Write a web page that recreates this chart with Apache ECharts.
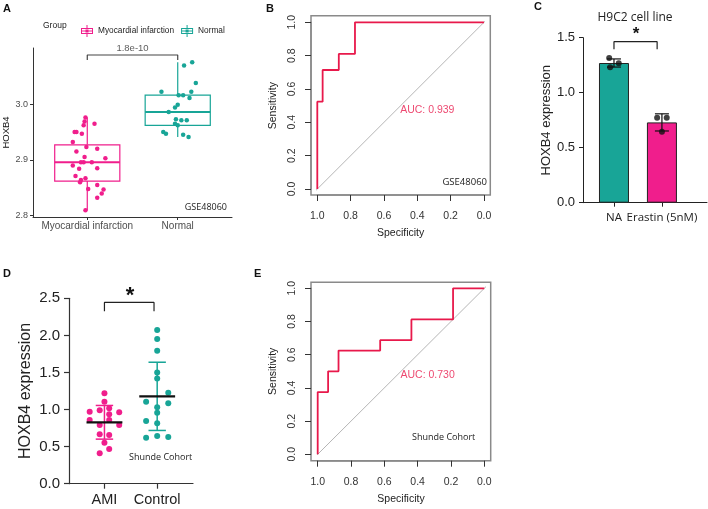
<!DOCTYPE html>
<html>
  <head>
    <meta charset="utf-8" />
    <title>HOXB4 expression panels</title>
    <script src="https://cdn.jsdelivr.net/npm/echarts/dist/echarts.min.js"></script>
    <style>
      body {
        margin: 0;
        padding: 0;
        background: #fff;
      }
      #main {
        width: 708px;
        height: 509px;
      }
    </style>
  </head>
  <body>
    <div id="main"></div>
    <script type="text/javascript">
      // ---- panel A : GSE48060 boxplot + jitter ----
      var aGroups = ["Myocardial infarction", "Normal"];
      var aMiValues = [
        2.976, 2.969, 2.965, 2.962, 2.95, 2.95, 2.947, 2.932, 2.923, 2.92,
        2.915, 2.905, 2.903, 2.896, 2.896, 2.896, 2.89, 2.885, 2.884, 2.871,
        2.867, 2.864, 2.86, 2.855, 2.848, 2.847, 2.84, 2.832, 2.81,
      ];
      var aMiJitter = [
        -0.02, -0.03, 0.08, -0.04, -0.14, -0.12, -0.06, -0.16, -0.01, 0.11,
        -0.12, -0.03, 0.2, -0.07, -0.04, 0.05, -0.16, 0.11, -0.09, -0.13,
        -0.02, -0.07, -0.08, 0.11, 0.01, 0.18, 0.16, 0.11, -0.02,
      ];
      var aNormalValues = [
        3.075, 3.069, 3.038, 3.022, 3.022, 3.016, 3.016, 3.011, 2.999, 2.994,
        2.986, 2.973, 2.971, 2.971, 2.965, 2.962, 2.95, 2.947, 2.945, 2.941,
      ];
      var aNormalJitter = [
        0.16, 0.07, 0.2, -0.18, 0.15, 0.01, 0.06, 0.13, 0, -0.03, -0.1, -0.02,
        0.04, 0.1, -0.03, 0, -0.16, -0.13, 0.06, 0.12,
      ];
      // lower whisker, Q1, median, Q3, upper whisker
      var aBoxMi = [2.81, 2.862, 2.896, 2.927, 2.976];
      var aBoxNormal = [2.941, 2.962, 2.986, 3.016, 3.075];
      var aTicks = [2.8, 2.9, 3.0];
      var aPValue = "1.8e-10";

      // ---- panel B : ROC GSE48060 ----
      var bSpec = [1, 1, 0.968, 0.968, 0.871, 0.871, 0.774, 0.774, 0];
      var bSens = [0, 0.524, 0.524, 0.714, 0.714, 0.81, 0.81, 1, 1];
      var bAuc = "AUC: 0.939";

      // ---- panel C : H9C2 cell line ----
      var cGroups = ["NA", "Erastin (5nM)"];
      var cMeans = [1.27, 0.73];
      var cErr = [0.037, 0.078];
      var cPoints = [
        [1.315, 1.267, 1.231],
        [0.773, 0.773, 0.645],
      ];
      var cJitter = [
        [-0.1, 0.1, -0.08],
        [-0.1, 0.1, 0],
      ];

      // ---- panel D : Shunde cohort ----
      var dGroups = ["AMI", "Control"];
      var dAmi = [
        1.218, 1.105, 0.97, 0.989, 1.016, 0.962, 0.935, 0.858, 0.858, 0.791,
        0.791, 0.666, 0.656, 0.553, 0.468, 0.41,
      ];
      var dAmiJitter = [
        0, 0, -0.28, -0.09, 0.09, 0.28, 0.09, -0.28, 0.09, -0.09, 0.28, -0.09,
        0.09, 0, 0.09, -0.09,
      ];
      var dControl = [
        2.071, 1.95, 1.792, 1.501, 1.42, 1.105, 1.226, 1.084, 1.03, 0.957,
        0.845, 0.814, 0.62, 0.643, 0.629,
      ];
      var dControlJitter = [
        0, 0, 0, 0, 0, -0.21, 0.21, 0.21, 0, 0, -0.21, 0, -0.21, 0, 0.21,
      ];
      var dMeans = [0.828, 1.178];
      var dSd = [0.227, 0.46];

      // ---- panel E : ROC Shunde cohort ----
      var eSpec = [
        1, 1, 0.9375, 0.9375, 0.875, 0.875, 0.625, 0.625, 0.4375, 0.4375,
        0.1875, 0.1875, 0,
      ];
      var eSens = [
        0, 0.375, 0.375, 0.5, 0.5, 0.625, 0.625, 0.6875, 0.6875, 0.8125,
        0.8125, 1, 1,
      ];
      var eAuc = "AUC: 0.730";

      var PINK = "#F01E8C";
      var TEAL = "#18A597";
      var RED = "#E8194B";
      var BOX_GREY = "#8a8a8a";
      var aColors = [PINK, TEAL];

      var myChart = echarts.init(document.getElementById("main"));

      function zip(xs, ys) {
        return xs.map(function (x, i) {
          return [x, ys[i]];
        });
      }
      function jittered(center, values, jitter) {
        return values.map(function (v, i) {
          return [center + jitter[i], v];
        });
      }

      // ROC axes: data range 0..1, pushed out onto the R plot box with offset
      function rocXAxis(grid, off) {
        return {
          gridIndex: grid,
          type: "value",
          inverse: true,
          min: 0,
          max: 1,
          interval: 0.2,
          offset: off,
          name: "Specificity",
          nameLocation: "middle",
          nameGap: 33,
          nameTextStyle: { fontSize: 10.5, color: "#222" },
          axisLine: { show: true, onZero: false, lineStyle: { color: BOX_GREY, width: 1.5 } },
          axisTick: { show: true, length: 6, lineStyle: { color: "#333", width: 1 } },
          axisLabel: {
            fontSize: 10.5,
            color: "#333",
            margin: 16,
            formatter: function (v) {
              return v.toFixed(1);
            },
          },
          splitLine: { show: false },
        };
      }
      function rocYAxis(grid, off) {
        return {
          gridIndex: grid,
          type: "value",
          min: 0,
          max: 1,
          interval: 0.2,
          offset: off,
          name: "Sensitivity",
          nameLocation: "middle",
          nameGap: 32,
          nameTextStyle: { fontSize: 10.5, color: "#222" },
          axisLine: { show: true, onZero: false, lineStyle: { color: BOX_GREY, width: 1.5 } },
          axisTick: { show: true, length: 6, lineStyle: { color: "#333", width: 1 } },
          axisLabel: {
            rotate: 90,
            fontSize: 10.5,
            color: "#333",
            margin: 13,
            formatter: function (v) {
              return v.toFixed(1);
            },
          },
          splitLine: { show: false },
        };
      }
      function rocSeries(idx, spec, sens, auc) {
        return [
          {
            type: "line",
            xAxisIndex: idx,
            yAxisIndex: idx,
            data: [
              [1.04, -0.04],
              [-0.04, 1.04],
            ],
            clip: false,
            symbol: "none",
            lineStyle: { color: "#b5b5b5", width: 1 },
            silent: true,
          },
          {
            type: "line",
            xAxisIndex: idx,
            yAxisIndex: idx,
            data: zip(spec, sens),
            clip: false,
            symbol: "none",
            lineStyle: { color: RED, width: 1.8 },
          },
          {
            type: "scatter",
            xAxisIndex: idx,
            yAxisIndex: idx,
            data: [[0.5, 0.505]],
            symbolSize: 1,
            itemStyle: { color: "transparent" },
            label: {
              show: true,
              position: [0, 0],
              align: "left",
              verticalAlign: "top",
              formatter: auc,
              fontSize: 10.5,
              color: RED,
            },
          },
        ];
      }

      function bracket(idx, x1, x2, yLow, yHigh, color) {
        return {
          type: "line",
          xAxisIndex: idx,
          yAxisIndex: idx,
          data: [
            [x1, yLow],
            [x1, yHigh],
            [x2, yHigh],
            [x2, yLow],
          ],
          symbol: "none",
          lineStyle: { color: color, width: 1.2 },
          silent: true,
        };
      }

      var boxIcon =
        "path://M0,3H12V9H0Z M1,4V8H11V4Z M1,5.5H11V6.5H1Z M5.5,0H6.5V3H5.5Z M5.5,9H6.5V12H5.5Z M4.5,4.5H7.5V7.5H4.5Z";

      var option = {
        animation: false,
        textStyle: { fontFamily: "Liberation Sans" },
        legend: {
          left: 76,
          top: 20,
          itemWidth: 12,
          itemHeight: 12,
          itemGap: 7,
          textStyle: { fontSize: 8.3, color: "#222" },
          data: [
            { name: aGroups[0], icon: boxIcon },
            { name: aGroups[1], icon: boxIcon },
          ],
        },
        grid: [
          { left: 33, top: 48, width: 199, height: 169 },
          { left: 317.3, top: 22.3, width: 166.7, height: 166.7 },
          { left: 583, top: 37.7, width: 124, height: 165 },
          { left: 69, top: 298.3, width: 124, height: 185.4 },
          { left: 317.7, top: 288.3, width: 166.6, height: 166 },
        ],
        xAxis: [
          {
            gridIndex: 0,
            type: "value",
            min: 0.4,
            max: 2.6,
            axisLine: { onZero: false, lineStyle: { color: "#333", width: 1 } },
            axisTick: {
              show: true,
              length: 3,
              customValues: [1, 2],
              lineStyle: { color: "#333" },
            },
            axisLabel: {
              customValues: [1, 2],
              fontSize: 10,
              color: "#4d4d4d",
              margin: 4,
              formatter: function (v) {
                return aGroups[Math.round(v) - 1];
              },
            },
            splitLine: { show: false },
          },
          rocXAxis(1, 6),
          {
            gridIndex: 2,
            type: "value",
            min: 0.354,
            max: 2.94,
            axisLine: { onZero: false, lineStyle: { color: "#222", width: 1 } },
            axisTick: {
              show: true,
              length: 4,
              customValues: [1, 2],
              lineStyle: { color: "#222" },
            },
            axisLabel: {
              customValues: [1, 2],
              fontFamily: "Open Sans",
              fontSize: 11.5,
              color: "#222",
              margin: 9,
              formatter: function (v) {
                return cGroups[Math.round(v) - 1];
              },
            },
            splitLine: { show: false },
          },
          {
            gridIndex: 3,
            type: "value",
            min: 0.328,
            max: 2.679,
            axisLine: { onZero: false, lineStyle: { color: "#333", width: 1.2 } },
            axisTick: {
              show: true,
              length: 5,
              customValues: [1, 2],
              lineStyle: { color: "#333", width: 1.2 },
            },
            axisLabel: {
              customValues: [1, 2],
              fontSize: 14.5,
              color: "#222",
              margin: 9,
              formatter: function (v) {
                return dGroups[Math.round(v) - 1];
              },
            },
            splitLine: { show: false },
          },
          rocXAxis(4, 6.4),
        ],
        yAxis: [
          {
            gridIndex: 0,
            type: "value",
            min: 2.7977,
            max: 3.1005,
            name: "HOXB4",
            nameLocation: "middle",
            nameGap: 21,
            nameTextStyle: { fontSize: 9.5, color: "#111" },
            axisLine: { show: true, onZero: false, lineStyle: { color: "#333", width: 1 } },
            axisTick: {
              show: true,
              length: 3,
              customValues: aTicks,
              lineStyle: { color: "#333" },
            },
            axisLabel: {
              customValues: aTicks,
              fontSize: 9,
              color: "#4d4d4d",
              margin: 5,
              formatter: function (v) {
                return v.toFixed(1);
              },
            },
            splitLine: { show: false },
          },
          rocYAxis(1, 6.3),
          {
            gridIndex: 2,
            type: "value",
            min: 0,
            max: 1.5,
            interval: 0.5,
            name: "HOXB4 expression",
            nameLocation: "middle",
            nameGap: 27,
            nameTextStyle: { fontSize: 13, color: "#222" },
            axisLine: { show: true, onZero: false, lineStyle: { color: "#222", width: 1 } },
            axisTick: { show: true, length: 4, lineStyle: { color: "#222" } },
            axisLabel: {
              fontSize: 13,
              color: "#222",
              margin: 8,
              formatter: function (v) {
                return v.toFixed(1);
              },
            },
            splitLine: { show: false },
          },
          {
            gridIndex: 3,
            type: "value",
            min: 0,
            max: 2.5,
            interval: 0.5,
            name: "HOXB4 expression",
            nameLocation: "middle",
            nameGap: 35,
            nameTextStyle: { fontSize: 16, color: "#222" },
            axisLine: { show: true, onZero: false, lineStyle: { color: "#333", width: 1.2 } },
            axisTick: {
              show: true,
              length: 5,
              lineStyle: { color: "#333", width: 1.2 },
            },
            axisLabel: {
              fontSize: 15,
              color: "#222",
              margin: 9,
              formatter: function (v) {
                return v.toFixed(1);
              },
            },
            splitLine: { show: false },
          },
          rocYAxis(4, 6.7),
        ],
        graphic: [
          // R plot boxes around the ROC panels
          {
            type: "rect",
            shape: { x: 311, y: 15.7, width: 179.3, height: 179.3 },
            style: { fill: "none", stroke: BOX_GREY, lineWidth: 1.5 },
            silent: true,
          },
          {
            type: "rect",
            shape: { x: 311, y: 282.3, width: 179.7, height: 178.4 },
            style: { fill: "none", stroke: BOX_GREY, lineWidth: 1.5 },
            silent: true,
          },
          { type: "text", x: 3, y: 3, style: { text: "A", font: "bold 11px Liberation Sans", fill: "#111" } },
          { type: "text", x: 266, y: 3, style: { text: "B", font: "bold 11px Liberation Sans", fill: "#111" } },
          { type: "text", x: 534, y: 1, style: { text: "C", font: "bold 11px Liberation Sans", fill: "#111" } },
          { type: "text", x: 3, y: 268, style: { text: "D", font: "bold 11px Liberation Sans", fill: "#111" } },
          { type: "text", x: 254, y: 268, style: { text: "E", font: "bold 11px Liberation Sans", fill: "#111" } },
          {
            type: "text",
            x: 43,
            y: 26,
            style: { text: "Group", font: "8.5px Liberation Sans", fill: "#222", textVerticalAlign: "middle", verticalAlign: "middle" },
          },
          {
            type: "text",
            x: 227,
            y: 207,
            style: { text: "GSE48060", font: "9px Open Sans", fill: "#222", textAlign: "right", align: "right", textVerticalAlign: "middle", verticalAlign: "middle" },
          },
          {
            type: "text",
            x: 487,
            y: 182,
            style: { text: "GSE48060", font: "9.5px Open Sans", fill: "#222", textAlign: "right", align: "right", textVerticalAlign: "middle", verticalAlign: "middle" },
          },
          {
            type: "text",
            x: 635,
            y: 18,
            style: { text: "H9C2 cell line", font: "12px Open Sans", fill: "#222", textAlign: "center", align: "center", textVerticalAlign: "middle", verticalAlign: "middle" },
          },
          {
            type: "text",
            x: 636,
            y: 34,
            style: { text: "*", font: "bold 17px Liberation Sans", fill: "#111", textAlign: "center", align: "center", textVerticalAlign: "middle", verticalAlign: "middle" },
          },
          {
            type: "text",
            x: 130,
            y: 296,
            style: { text: "*", font: "bold 22px Liberation Sans", fill: "#111", textAlign: "center", align: "center", textVerticalAlign: "middle", verticalAlign: "middle" },
          },
          {
            type: "text",
            x: 129,
            y: 457,
            style: { text: "Shunde Cohort", font: "9px Open Sans", fill: "#222", textVerticalAlign: "middle", verticalAlign: "middle" },
          },
          {
            type: "text",
            x: 412,
            y: 437,
            style: { text: "Shunde Cohort", font: "9px Open Sans", fill: "#222", textVerticalAlign: "middle", verticalAlign: "middle" },
          },
        ],
        series: [],
      };

      var s = option.series;

      // A: boxes, points, p-value bracket
      s.push({
        type: "custom",
        xAxisIndex: 0,
        yAxisIndex: 0,
        data: [[1].concat(aBoxMi), [2].concat(aBoxNormal)],
        renderItem: function (params, api) {
          var x = api.value(0);
          var col = aColors[params.dataIndex];
          var hw = api.size([0.36, 0])[0];
          var lo = api.coord([x, api.value(1)]);
          var q1 = api.coord([x, api.value(2)]);
          var md = api.coord([x, api.value(3)]);
          var q3 = api.coord([x, api.value(4)]);
          var hi = api.coord([x, api.value(5)]);
          var st = { stroke: col, lineWidth: 1.2 };
          return {
            type: "group",
            children: [
              { type: "line", shape: { x1: lo[0], y1: lo[1], x2: q1[0], y2: q1[1] }, style: st },
              { type: "line", shape: { x1: q3[0], y1: q3[1], x2: hi[0], y2: hi[1] }, style: st },
              {
                type: "rect",
                shape: { x: q3[0] - hw, y: q3[1], width: 2 * hw, height: q1[1] - q3[1] },
                style: { stroke: col, lineWidth: 1.2, fill: "#fff" },
              },
              {
                type: "line",
                shape: { x1: md[0] - hw, y1: md[1], x2: md[0] + hw, y2: md[1] },
                style: { stroke: col, lineWidth: 2 },
              },
            ],
          };
        },
      });
      s.push({
        name: aGroups[0],
        type: "scatter",
        xAxisIndex: 0,
        yAxisIndex: 0,
        data: jittered(1, aMiValues, aMiJitter),
        symbolSize: 4.5,
        itemStyle: { color: PINK, opacity: 1 },
      });
      s.push({
        name: aGroups[1],
        type: "scatter",
        xAxisIndex: 0,
        yAxisIndex: 0,
        data: jittered(2, aNormalValues, aNormalJitter),
        symbolSize: 4.5,
        itemStyle: { color: TEAL, opacity: 1 },
      });
      s.push(bracket(0, 1, 2, 3.079, 3.088, "#444"));
      s.push({
        type: "scatter",
        xAxisIndex: 0,
        yAxisIndex: 0,
        data: [[1.5, 3.088]],
        symbolSize: 1,
        itemStyle: { color: "transparent" },
        label: {
          show: true,
          position: "top",
          distance: 1,
          formatter: aPValue,
          fontSize: 9.5,
          color: "#333",
        },
      });

      // B
      rocSeries(1, bSpec, bSens, bAuc).forEach(function (o) {
        s.push(o);
      });

      // C: bars, error bars, points, bracket
      s.push({
        type: "bar",
        xAxisIndex: 2,
        yAxisIndex: 2,
        barWidth: 30,
        data: cMeans.map(function (m, i) {
          return {
            value: [i + 1, m],
            itemStyle: { color: aColors[1 - i], borderColor: "#222", borderWidth: 1 },
          };
        }),
      });
      s.push({
        type: "custom",
        xAxisIndex: 2,
        yAxisIndex: 2,
        data: cMeans.map(function (m, i) {
          return [i + 1, m, cErr[i]];
        }),
        renderItem: function (params, api) {
          var x = api.value(0);
          var m = api.value(1);
          var e = api.value(2);
          var top = api.coord([x, m + e]);
          var bot = api.coord([x, m - e]);
          var hw = 7;
          var st = { stroke: "#111", lineWidth: 1.2 };
          return {
            type: "group",
            children: [
              { type: "line", shape: { x1: top[0], y1: top[1], x2: bot[0], y2: bot[1] }, style: st },
              { type: "line", shape: { x1: top[0] - hw, y1: top[1], x2: top[0] + hw, y2: top[1] }, style: st },
              { type: "line", shape: { x1: bot[0] - hw, y1: bot[1], x2: bot[0] + hw, y2: bot[1] }, style: st },
            ],
          };
        },
        z: 3,
      });
      s.push({
        type: "scatter",
        xAxisIndex: 2,
        yAxisIndex: 2,
        data: jittered(1, cPoints[0], cJitter[0]).concat(jittered(2, cPoints[1], cJitter[1])),
        symbolSize: 6,
        itemStyle: { color: "#111" },
        z: 4,
      });
      s.push(bracket(2, 1, 1.9, 1.395, 1.464, "#222"));

      // D: points, mean +/- SD, bracket
      s.push({
        type: "scatter",
        xAxisIndex: 3,
        yAxisIndex: 3,
        data: jittered(1, dAmi, dAmiJitter),
        symbolSize: 6,
        itemStyle: { color: PINK, opacity: 1 },
      });
      s.push({
        type: "scatter",
        xAxisIndex: 3,
        yAxisIndex: 3,
        data: jittered(2, dControl, dControlJitter),
        symbolSize: 6,
        itemStyle: { color: TEAL, opacity: 1 },
      });
      s.push({
        type: "custom",
        xAxisIndex: 3,
        yAxisIndex: 3,
        data: dMeans.map(function (m, i) {
          return [i + 1, m, dSd[i]];
        }),
        renderItem: function (params, api) {
          var x = api.value(0);
          var m = api.value(1);
          var e = api.value(2);
          var col = aColors[params.dataIndex];
          var top = api.coord([x, m + e]);
          var mid = api.coord([x, m]);
          var bot = api.coord([x, m - e]);
          var cap = api.size([0.165, 0])[0];
          var half = api.size([0.34, 0])[0];
          var st = { stroke: col, lineWidth: 1.5 };
          return {
            type: "group",
            children: [
              { type: "line", shape: { x1: top[0], y1: top[1], x2: bot[0], y2: bot[1] }, style: st },
              { type: "line", shape: { x1: top[0] - cap, y1: top[1], x2: top[0] + cap, y2: top[1] }, style: st },
              { type: "line", shape: { x1: bot[0] - cap, y1: bot[1], x2: bot[0] + cap, y2: bot[1] }, style: st },
              {
                type: "line",
                shape: { x1: mid[0] - half, y1: mid[1], x2: mid[0] + half, y2: mid[1] },
                style: { stroke: "#111", lineWidth: 2.2 },
              },
            ],
          };
        },
        z: 3,
      });
      s.push(bracket(3, 1, 1.94, 2.327, 2.445, "#222"));

      // E
      rocSeries(4, eSpec, eSens, eAuc).forEach(function (o) {
        s.push(o);
      });

      myChart.setOption(option);
    </script>
  </body>
</html>
